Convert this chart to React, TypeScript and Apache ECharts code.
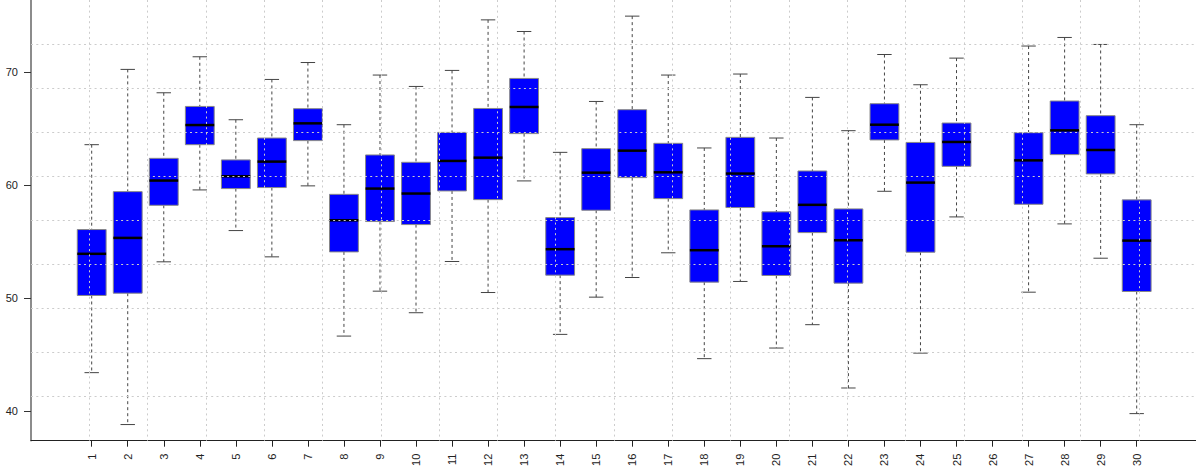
import React, { useEffect, useRef } from "react";
import * as echarts from "echarts";

const categories = [1, 2, 3, 4, 5, 6, 7, 8, 9, 10, 11, 12, 13, 14, 15, 16, 17, 18, 19, 20, 21, 22, 23, 24, 25, 26, 27, 28, 29, 30];
const whiskerLow = [43.4, 38.8, 53.22, 59.59, 55.99, 53.66, 59.95, 46.64, 50.62, 48.71, 53.25, 50.5, 60.39, 46.79, 50.09, 51.83, 54.02, 44.64, 51.48, 45.58, 47.65, 42.04, 59.47, 45.13, 57.2, null, 50.53, 56.58, 53.54, 39.77];
const quartile1 = [50.24, 50.44, 58.23, 63.6, 59.71, 59.8, 63.96, 54.1, 56.79, 56.52, 59.5, 58.73, 64.58, 52.04, 57.79, 60.68, 58.82, 51.42, 58.03, 52.01, 55.81, 51.33, 64.02, 54.07, 61.68, null, 58.32, 62.72, 61.01, 50.59];
const medians = [53.93, 55.34, 60.42, 65.34, 60.8, 62.1, 65.49, 56.9, 59.71, 59.27, 62.16, 62.45, 66.94, 54.34, 61.12, 63.07, 61.15, 54.25, 61.04, 54.6, 58.27, 55.13, 65.37, 60.24, 63.84, null, 62.21, 64.87, 63.13, 55.1];
const quartile3 = [56.08, 59.44, 62.39, 66.99, 62.25, 64.19, 66.79, 59.2, 62.69, 62.04, 64.69, 66.81, 69.47, 57.14, 63.25, 66.7, 63.72, 57.82, 64.25, 57.65, 61.27, 57.91, 67.23, 63.8, 65.52, null, 64.66, 67.47, 66.17, 58.71];
const whiskerHigh = [63.6, 70.27, 68.2, 71.39, 65.81, 69.38, 70.88, 65.37, 69.77, 68.76, 70.18, 74.66, 73.63, 62.92, 67.43, 74.99, 69.77, 63.31, 69.86, 64.19, 67.79, 64.84, 71.59, 68.91, 71.27, null, 72.34, 73.1, 72.48, 65.37];
const yTickValues = [40, 50, 60, 70];

const X_MIN = -0.6845;
const X_MAX = 31.646;
const Y_MIN = 37.37;
const Y_MAX = 76.42;

export default function App() {
  const ref = useRef<HTMLDivElement>(null);
  useEffect(() => {
    if (!ref.current) return;
    const chart = echarts.init(ref.current, null, { renderer: "svg" });
    const data: number[][] = [];
    categories.forEach((c, i) => {
      if (medians[i] == null) return;
      data.push([c, whiskerLow[i] as number, quartile1[i] as number, medians[i] as number, quartile3[i] as number, whiskerHigh[i] as number]);
    });
    const font = "'Liberation Sans', Arial, sans-serif";
    const gridLine = { show: true, lineStyle: { color: "#cccccc", type: [2, 3.3], width: 1 }, showMinLine: false, showMaxLine: false };
    chart.setOption({
      animation: false,
      grid: { left: 31, right: 0, top: 0, bottom: 29.3, containLabel: false },
      xAxis: [
        {
          type: "value",
          min: X_MIN,
          max: X_MAX,
          axisLine: { show: true, onZero: false, lineStyle: { color: "#222", width: 1 } },
          axisTick: { show: true, customValues: categories, length: 6, lineStyle: { color: "#222" } },
          axisLabel: { show: true, customValues: categories, rotate: 90, margin: 13, fontSize: 11, color: "#222", fontFamily: font },
          splitLine: { show: false },
        },
        {
          type: "value",
          min: X_MIN,
          max: X_MAX,
          interval: 1.618,
          z: 10,
          axisLine: { show: false, onZero: false },
          axisTick: { show: false },
          axisLabel: { show: false },
          splitLine: gridLine,
        },
      ],
      yAxis: [
        {
          type: "value",
          min: Y_MIN,
          max: Y_MAX,
          axisLine: { show: true, onZero: false, lineStyle: { color: "#666", width: 1.5 } },
          axisTick: { show: true, customValues: yTickValues, length: 7, lineStyle: { color: "#333" } },
          axisLabel: { show: true, customValues: yTickValues, margin: 13, fontSize: 11, color: "#222", fontFamily: font },
          splitLine: { show: false },
        },
        {
          type: "value",
          min: Y_MIN,
          max: Y_MAX,
          interval: 3.905,
          z: 10,
          axisLine: { show: false, onZero: false },
          axisTick: { show: false },
          axisLabel: { show: false },
          splitLine: gridLine,
        },
      ],
      series: [
        {
          type: "custom",
          xAxisIndex: 0,
          yAxisIndex: 0,
          z: 2,
          encode: { x: 0, y: [1, 2, 3, 4, 5] },
          data,
          renderItem: (params: any, api: any) => {
            const x = api.value(0);
            const lo = api.coord([x, api.value(1)]);
            const q1 = api.coord([x, api.value(2)]);
            const md = api.coord([x, api.value(3)]);
            const q3 = api.coord([x, api.value(4)]);
            const hi = api.coord([x, api.value(5)]);
            const band = api.size([1, 0])[0];
            const bw = band * 0.8;
            const cw = band * 0.4;
            const cx = lo[0];
            const whisk = { stroke: "#444", lineWidth: 1, lineDash: [3, 3] };
            const cap = { stroke: "#444", lineWidth: 1 };
            return {
              type: "group",
              children: [
                { type: "line", shape: { x1: cx, y1: hi[1], x2: cx, y2: q3[1] }, style: whisk },
                { type: "line", shape: { x1: cx, y1: q1[1], x2: cx, y2: lo[1] }, style: whisk },
                { type: "line", shape: { x1: cx - cw / 2, y1: hi[1], x2: cx + cw / 2, y2: hi[1] }, style: cap },
                { type: "line", shape: { x1: cx - cw / 2, y1: lo[1], x2: cx + cw / 2, y2: lo[1] }, style: cap },
                {
                  type: "rect",
                  shape: { x: cx - bw / 2, y: q3[1], width: bw, height: q1[1] - q3[1] },
                  style: { fill: "#0000ff", stroke: "#888", lineWidth: 1 },
                },
                { type: "line", shape: { x1: cx - bw / 2, y1: md[1], x2: cx + bw / 2, y2: md[1] }, style: { stroke: "#000", lineWidth: 2.5 } },
              ],
            };
          },
        },
      ],
    });
    return () => chart.dispose();
  }, []);
  return <div ref={ref} style={{ position: "absolute", left: 0, top: 0, width: 1196, height: 470 }} />;
}
